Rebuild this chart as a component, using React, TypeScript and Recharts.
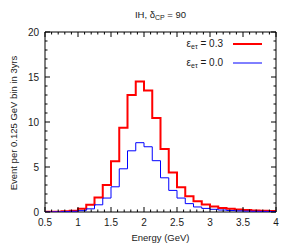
import { LineChart, Line, XAxis, YAxis, ReferenceArea, Legend } from "recharts"

// bin left edges (GeV), 0.125 GeV wide
const binEdges = [
  0.5, 0.625, 0.75, 0.875, 1.0, 1.125, 1.25, 1.375, 1.5, 1.625, 1.75, 1.875, 2.0, 2.125,
  2.25, 2.375, 2.5, 2.625, 2.75, 2.875, 3.0, 3.125, 3.25, 3.375, 3.5, 3.625, 3.75, 3.875,
]
const lastEdge = 4.0

// eps_etau = 0.3
const eventsNsi = [
  0.02, 0.04, 0.07, 0.15, 0.37, 0.8, 1.6, 3.0, 5.65, 9.35, 13.0, 14.5, 13.5, 10.45,
  7.0, 4.4, 2.75, 1.75, 1.2, 0.82, 0.6, 0.45, 0.35, 0.28, 0.22, 0.18, 0.15, 0.12,
]
// eps_etau = 0.0
const eventsStd = [
  0.01, 0.02, 0.04, 0.08, 0.15, 0.35, 0.8, 1.55, 2.8, 4.8, 6.8, 7.7, 7.25, 5.7,
  3.8, 2.4, 1.55, 0.93, 0.56, 0.4, 0.3, 0.22, 0.17, 0.13, 0.1, 0.08, 0.07, 0.06,
]

const xTicks = [
  0.5, 0.6, 0.7, 0.8, 0.9, 1.0, 1.1, 1.2, 1.3, 1.4, 1.5, 1.6, 1.7, 1.8, 1.9, 2.0, 2.1, 2.2,
  2.3, 2.4, 2.5, 2.6, 2.7, 2.8, 2.9, 3.0, 3.1, 3.2, 3.3, 3.4, 3.5, 3.6, 3.7, 3.8, 3.9, 4.0,
]
const yTicks = [0, 1, 2, 3, 4, 5, 6, 7, 8, 9, 10, 11, 12, 13, 14, 15, 16, 17, 18, 19, 20]

const legendLabels = ["0.3", "0.0"]

const data = [
  ...binEdges.map((e, i) => ({ e, nsi: eventsNsi[i], std: eventsStd[i] })),
  { e: lastEdge, nsi: eventsNsi[eventsNsi.length - 1], std: eventsStd[eventsStd.length - 1] },
]

const W = 280
const H = 235
const M = { top: 24, right: 12, left: 0, bottom: 0 }
const Y_W = 37
const X_H = 31
const PLOT_TOP = M.top
const PLOT_RIGHT = W - M.right
const FONT = "'Liberation Sans', Arial, sans-serif"
const TXT = "#1a1a1a"

const XTick = (props: any) => {
  const { x, y, payload } = props
  const v = payload.value
  const major = Math.abs(v * 2 - Math.round(v * 2)) < 1e-6
  const len = major ? 5 : 2.5
  return (
    <g>
      <line x1={x} x2={x} y1={y} y2={y - len} stroke="#000" />
      <line x1={x} x2={x} y1={PLOT_TOP} y2={PLOT_TOP + len} stroke="#000" />
      {major && (
        <text x={x} y={y + 14} textAnchor="middle" fontSize={10} fontFamily={FONT} fill={TXT}>
          {v}
        </text>
      )}
    </g>
  )
}

const YTick = (props: any) => {
  const { x, y, payload } = props
  const v = payload.value
  const major = v % 5 === 0
  const len = major ? 5 : 2.5
  return (
    <g>
      <line x1={x} x2={x + len} y1={y} y2={y} stroke="#000" />
      <line x1={PLOT_RIGHT} x2={PLOT_RIGHT - len} y1={y} y2={y} stroke="#000" />
      {major && (
        <text x={x - 6} y={y + 3.5} textAnchor="end" fontSize={10} fontFamily={FONT} fill={TXT}>
          {v}
        </text>
      )}
    </g>
  )
}

const YLabel = () => (
  <text
    x={9}
    y={115}
    transform="rotate(-90, 9, 115)"
    textAnchor="middle"
    fontSize={9.5}
    fontFamily={FONT}
    fill={TXT}
  >
    Event per 0.125 GeV bin in 3yrs
  </text>
)

const LegendBox = (props: any) => {
  const items = props.payload || []
  return (
    <div style={{ fontFamily: FONT, fontSize: 10, color: TXT }}>
      {items.map((it: any, i: number) => (
        <div
          key={i}
          style={{ display: "flex", justifyContent: "flex-end", alignItems: "center", height: 19 }}
        >
          <span style={{ whiteSpace: "nowrap" }}>
            ε<span style={{ fontSize: 7, position: "relative", top: 2 }}>eτ</span> = {legendLabels[i]}
          </span>
          <svg width={34} height={6} style={{ marginLeft: 5 }}>
            <line x1={5} x2={34} y1={3} y2={3} stroke={it.color} strokeWidth={i === 0 ? 2 : 1} />
          </svg>
        </div>
      ))}
    </div>
  )
}

export default function App() {
  return (
    <div style={{ position: "relative", width: W, height: H }}>
      <div
        style={{
          position: "absolute",
          left: 0,
          width: W,
          paddingLeft: M.left + Y_W,
          paddingRight: M.right,
          boxSizing: "border-box",
          top: 1,
          textAlign: "center",
          fontFamily: FONT,
          fontSize: 9.5,
          color: TXT,
          zIndex: 2,
        }}
      >
        IH, δ<span style={{ fontSize: 7, position: "relative", top: 2 }}>CP</span> = 90
      </div>
      <LineChart width={W} height={H} data={data} margin={M}>
        <XAxis
          dataKey="e"
          type="number"
          domain={[0.5, 4]}
          ticks={xTicks}
          interval={0}
          tickSize={0}
          tickMargin={0}
          axisLine={false}
          tickLine={false}
          height={X_H}
          tick={(p: any) => <XTick {...p} />}
          allowDataOverflow
          label={{
            value: "Energy (GeV)",
            position: "insideBottom",
            offset: 2,
            fontSize: 9.5,
            fontFamily: FONT,
            fill: TXT,
          }}
        />
        <YAxis
          type="number"
          domain={[0, 20]}
          ticks={yTicks}
          interval={0}
          tickSize={0}
          tickMargin={0}
          axisLine={false}
          tickLine={false}
          width={Y_W}
          tick={(p: any) => <YTick {...p} />}
          allowDataOverflow
          label={{ content: () => <YLabel /> }}
        />
        <ReferenceArea x1={0.5} x2={4} y1={0} y2={20} fill="none" stroke="#000" strokeWidth={1} ifOverflow="visible" />
        <Line
          dataKey="nsi"
          name="nsi"
          type="stepAfter"
          stroke="#ff0000"
          strokeWidth={2}
          dot={false}
          isAnimationActive={false}
        />
        <Line
          dataKey="std"
          name="std"
          type="stepAfter"
          stroke="#0000ff"
          strokeWidth={1}
          dot={false}
          isAnimationActive={false}
        />
        <Legend
          layout="horizontal"
          verticalAlign="middle"
          align="center"
          wrapperStyle={{ top: 26, left: 150, width: 104 }}
          content={(p: any) => <LegendBox {...p} />}
        />
      </LineChart>
    </div>
  )
}
